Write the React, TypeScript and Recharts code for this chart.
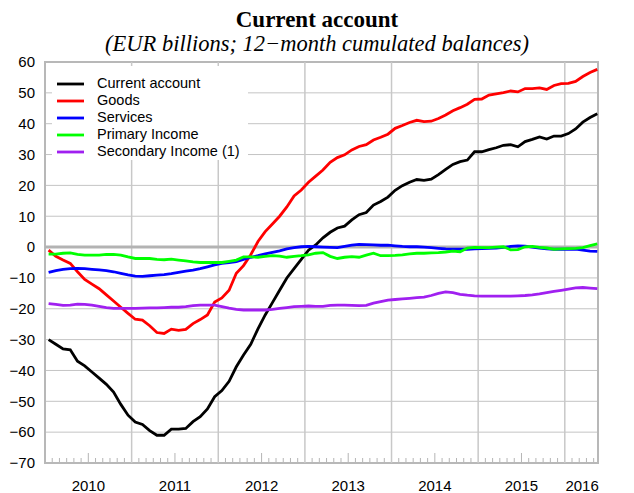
import React from "react";
import {
  LineChart,
  Line,
  XAxis,
  YAxis,
  CartesianGrid,
  ReferenceLine,
  ReferenceArea,
  Legend,
} from "recharts";

// monthly, Jan 2010 .. May 2016 (EUR billions, 12-month cumulated)
const currentAccount = [
  -30, -31.5, -33, -33.3, -37, -38.5, -40.5, -42.5, -44.5, -47,
  -51, -54.5, -56.7, -57.5, -59.5, -61, -61, -59, -59, -58.8,
  -56.6, -55, -52.5, -48.5, -46.5, -43.5, -38.8, -35, -31.5, -26.5,
  -22, -18, -14, -10, -7, -4, -1, 0.7, 3, 4.8,
  6.2, 6.8, 8.8, 10.5, 11.2, 13.6, 14.8, 16.2, 18.4, 19.9,
  21, 21.9, 21.6, 22, 23.5, 25.2, 26.8, 27.7, 28.2, 30.9,
  30.9, 31.6, 32.2, 33, 33.2, 32.5, 34.2, 34.9, 35.7, 35,
  36, 36, 36.8, 38.3, 40.5, 42, 43.2,
];
const goods = [
  -1, -3, -4.2, -5.3, -8, -10.5, -12, -13.5, -15.5, -17.5,
  -19.5, -21.5, -23.4, -23.7, -25.5, -27.7, -28, -26.6, -27, -26.7,
  -24.8, -23.5, -22, -17.8, -16.5, -14, -8.5, -6, -2.5, 1.8,
  5, 7.5, 10, 13, 16.6, 18.5, 21, 23, 25, 27.5,
  29, 29.9, 31.5, 32.6, 33.2, 34.7, 35.6, 36.6, 38.5, 39.4,
  40.4, 41.1, 40.7, 40.8, 41.7, 42.8, 44.2, 45.2, 46.3, 47.9,
  48, 49.3, 49.7, 50.1, 50.6, 50.3, 51.4, 51.4, 51.6, 51.1,
  52.4, 53, 53.1, 53.7, 55.3, 56.6, 57.6,
];
const services = [
  -8.2, -7.6, -7.2, -7, -6.9, -7, -7.2, -7.4, -7.6, -8,
  -8.5, -9, -9.4, -9.5, -9.3, -9.1, -8.9, -8.6, -8.2, -7.8,
  -7.5, -7, -6.4, -5.8, -5.3, -5, -4.7, -4, -3.3, -2.8,
  -2.2, -1.7, -1.2, -0.6, -0.2, 0.1, 0.2, 0.1, 0, -0.1,
  -0.2, 0.2, 0.6, 0.9, 0.8, 0.7, 0.6, 0.6, 0.4, 0.2,
  0.1, 0.1, 0, -0.2, -0.4, -0.6, -0.7, -0.7, -0.7, -0.6,
  -0.5, -0.4, -0.3, -0.1, 0.2, 0.4, 0.3, 0, -0.3, -0.6,
  -0.7, -0.7, -0.7, -0.7, -1, -1.3, -1.4,
];
const primaryIncome = [
  -2.3, -2.3, -2, -1.9, -2.4, -2.6, -2.6, -2.6, -2.4, -2.4,
  -2.6, -3.2, -3.7, -3.7, -3.7, -4, -4.1, -3.9, -4.2, -4.5,
  -4.8, -5, -5, -5, -5, -4.6, -4.2, -3.2, -3.2, -3.3,
  -3, -2.8, -2.9, -3.3, -3, -2.8, -2.5, -2, -1.8, -3,
  -3.7, -3.3, -3.1, -3.3, -2.6, -2, -2.8, -2.8, -2.7, -2.5,
  -2.2, -2, -2, -1.9, -1.8, -1.6, -1.3, -1.5, -0.3, -0.1,
  -0.2, -0.2, 0, 0.1, -0.9, -0.8, 0.1, 0.2, -0.1, -0.3,
  -0.7, -0.6, -0.5, -0.4, -0.2, 0.5, 1,
];
const secondaryIncome = [
  -18.3, -18.6, -18.9, -18.8, -18.5, -18.6, -18.8, -19.2, -19.6, -19.9,
  -19.9, -19.9, -19.9, -19.8, -19.7, -19.7, -19.6, -19.5, -19.5, -19.3,
  -19, -18.8, -18.8, -18.8, -19.3, -19.8, -20.2, -20.4, -20.4, -20.4,
  -20.4, -20.2, -19.9, -19.6, -19.3, -19.2, -19.1, -19.2, -19.2, -18.9,
  -18.8, -18.8, -18.9, -19, -18.9, -18.2, -17.7, -17.2, -17, -16.8,
  -16.6, -16.4, -16.2, -15.7, -15, -14.5, -14.8, -15.3, -15.6, -15.8,
  -15.9, -15.9, -15.9, -15.9, -15.9, -15.8, -15.7, -15.5, -15.2, -14.8,
  -14.4, -14, -13.6, -13.2, -13.1, -13.3, -13.5,
];

const seriesNames = ["Current account", "Goods", "Services", "Primary Income", "Secondary Income (1)"];
const yTicks = [60, 50, 40, 30, 20, 10, 0, -10, -20, -30, -40, -50, -60, -70];
const yearStarts = [12, 24, 36, 48, 60, 72];
const yearLabels = ["2010", "2011", "2012", "2013", "2014", "2015", "2016"];
const yearLabelPos = [6, 18, 30, 42, 54, 66, 74.4];

const chartData = currentAccount.map((v, i) => ({
  t: i + 0.5,
  ca: v,
  goods: goods[i],
  services: services[i],
  primary: primaryIncome[i],
  secondary: secondaryIncome[i],
}));

const monthTicks: number[] = [];
for (let m = 1; m < 77; m++) monthTicks.push(m);
const xTicks = [...monthTicks, 74.4].sort((a, b) => a - b);

const sans = "'Liberation Sans', Arial, sans-serif";
const serif = "'Liberation Serif', 'Times New Roman', serif";
const gray = "#c4c4c4";
const lineW = 2.8;

const fmtY = (v: number) => (v < 0 ? `\u2212${Math.abs(v)}` : `${v}`);

function MonthTick(props: any) {
  const { x, y, payload } = props;
  const v = Number(payload.value);
  const li = yearLabelPos.indexOf(v);
  const isInt = Number.isInteger(v);
  const len = isInt && v % 12 === 6 ? 9 : 4;
  return (
    <g>
      {isInt && v % 12 !== 0 && (
        <line x1={x} x2={x} y1={Number(y) - 1} y2={Number(y) - 1 - len} stroke="#b5b5b5" strokeWidth={1} />
      )}
      {li >= 0 && (
        <text x={x} y={Number(y) + 28} textAnchor="middle" fontSize={15} fontFamily={sans} fill="#000">
          {yearLabels[li]}
        </text>
      )}
    </g>
  );
}

function LegendBox(props: any) {
  const items = [...(props.payload || [])].sort(
    (a: any, b: any) => seriesNames.indexOf(a.value) - seriesNames.indexOf(b.value)
  );
  return (
    <div style={{ background: "#fff", padding: "9px 0 0 5px" }}>
      {items.map((it: any) => (
        <div key={it.value} style={{ display: "flex", alignItems: "center", height: 17 }}>
          <svg width={28} height={4} style={{ marginRight: 12 }}>
            <line x1={0} x2={27} y1={2} y2={2} stroke={it.color} strokeWidth={lineW} />
          </svg>
          <span style={{ fontFamily: sans, fontSize: 14.5, color: "#000", lineHeight: "17px" }}>
            {it.value}
          </span>
        </div>
      ))}
    </div>
  );
}

export default function App() {
  return (
    <div style={{ position: "absolute", left: 0, top: 0, width: 634, height: 493, background: "#fff" }}>
      <div
        style={{
          position: "absolute", left: 0, top: 7, width: 634, textAlign: "center",
          fontFamily: serif, fontWeight: "bold", fontSize: 23, lineHeight: "26px",
        }}
      >
        Current account
      </div>
      <div
        style={{
          position: "absolute", left: 0, top: 31, width: 634, textAlign: "center",
          fontFamily: serif, fontStyle: "italic", fontSize: 22.5, lineHeight: "26px",
        }}
      >
        (EUR billions; 12{"\u2212"}month cumulated balances)
      </div>
      <div style={{ position: "absolute", left: 0, top: 0 }}>
        <LineChart width={634} height={493} data={chartData} margin={{ top: 62, right: 0, bottom: 0, left: 0 }}>
          <CartesianGrid vertical={false} stroke={gray} strokeWidth={1} yAxisId="left" />
          <XAxis
            dataKey="t"
            type="number"
            domain={[0, 76.6]}
            ticks={xTicks}
            interval={0}
            height={30}
            axisLine={false}
            tickLine={false}
            tickSize={0}
            tickMargin={0}
            tick={<MonthTick />}
          />
          <YAxis
            yAxisId="left"
            domain={[-70, 60]}
            ticks={yTicks}
            interval={0}
            width={45}
            axisLine={false}
            tickLine={false}
            tickSize={0}
            tickMargin={10}
            tickFormatter={fmtY}
            tick={{ fontSize: 15, fontFamily: sans, fill: "#000" }}
          />
          <YAxis
            yAxisId="right"
            orientation="right"
            domain={[-70, 60]}
            ticks={yTicks}
            interval={0}
            width={36}
            axisLine={false}
            tickLine={false}
            tickSize={0}
            tickMargin={10}
            tickFormatter={fmtY}
            tick={{ fontSize: 15, fontFamily: sans, fill: "#000", textAnchor: "start" }}
          />
          {yearStarts.map((m) => (
            <ReferenceLine
              key={m}
              xAxisId={0}
              yAxisId="left"
              x={m}
              ifOverflow="visible"
              stroke="#c8c8c8"
              strokeWidth={1.5}
            />
          ))}
          <ReferenceLine yAxisId="left" y={0} stroke="#b3b3b3" strokeWidth={3} />
          <ReferenceArea
            yAxisId="left"
            x1={0}
            x2={76.6}
            y1={-70}
            y2={60}
            fill="none"
            stroke="#b8b8b8"
            strokeWidth={2}
          />
          <Legend
            layout="vertical"
            align="center"
            verticalAlign="middle"
            content={<LegendBox />}
            wrapperStyle={{ left: 52, top: 66, width: 196, height: 102 }}
          />
          <Line yAxisId="left" dataKey="ca" name="Current account" stroke="#000000" strokeWidth={lineW} dot={false} isAnimationActive={false} />
          <Line yAxisId="left" dataKey="goods" name="Goods" stroke="#ff0000" strokeWidth={lineW} dot={false} isAnimationActive={false} />
          <Line yAxisId="left" dataKey="services" name="Services" stroke="#0000ff" strokeWidth={lineW} dot={false} isAnimationActive={false} />
          <Line yAxisId="left" dataKey="primary" name="Primary Income" stroke="#00ff00" strokeWidth={lineW} dot={false} isAnimationActive={false} />
          <Line yAxisId="left" dataKey="secondary" name="Secondary Income (1)" stroke="#a020f0" strokeWidth={lineW} dot={false} isAnimationActive={false} />
        </LineChart>
      </div>
    </div>
  );
}
